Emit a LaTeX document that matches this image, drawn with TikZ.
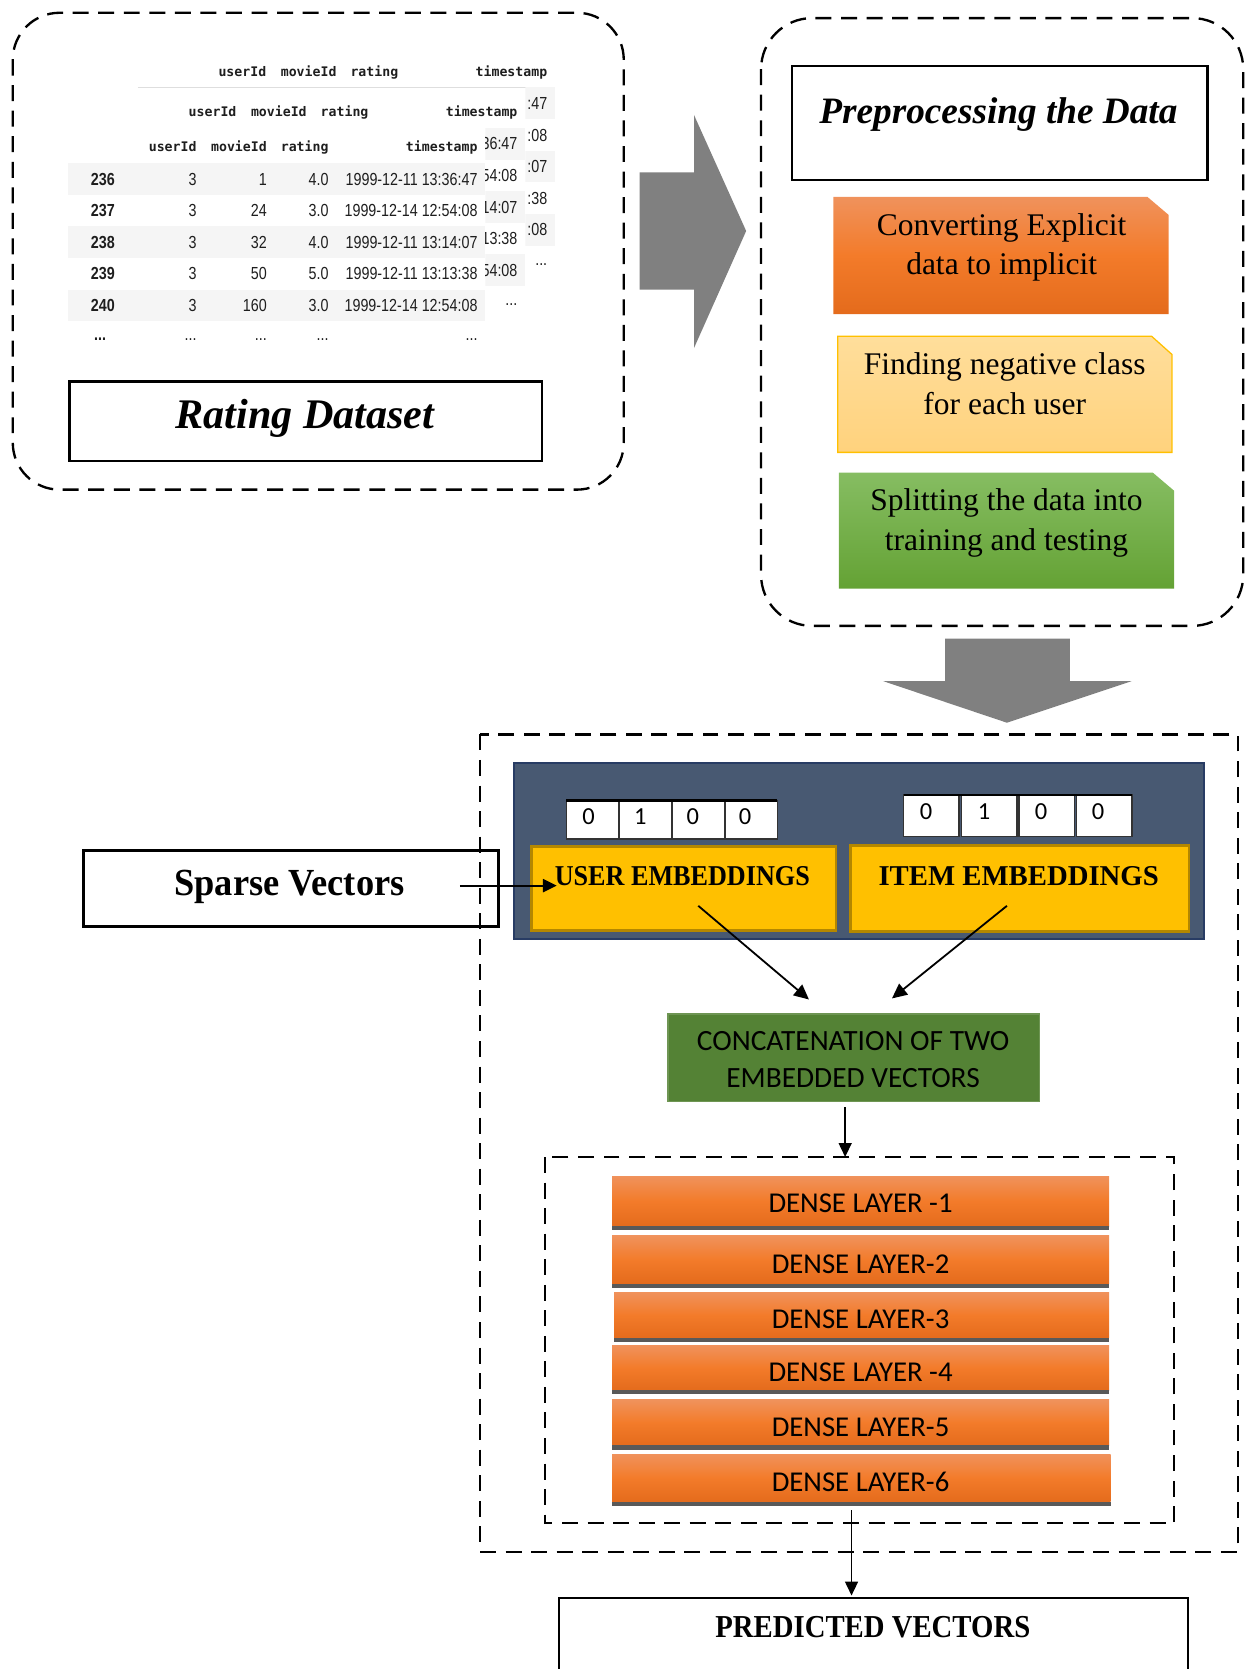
\documentclass[tikz,border=0pt]{standalone}
\usepackage{fontspec}
\usepackage{graphicx}
\setmainfont{Liberation Serif}
\newfontfamily\calib{Carlito}
\newfontfamily\tabfont[FakeStretch=0.82]{Liberation Sans}
\newfontfamily\monofont{DejaVu Sans Mono}
\usetikzlibrary{arrows.meta}

\definecolor{panelbg}{RGB}{72,89,114}
\definecolor{panelbd}{RGB}{40,60,100}
\definecolor{embfill}{RGB}{255,192,0}
\definecolor{embbd}{RGB}{180,135,0}
\definecolor{concatg}{RGB}{84,130,53}
\definecolor{orT}{RGB}{240,146,92}
\definecolor{orM}{RGB}{243,123,42}
\definecolor{orB}{RGB}{228,107,28}
\definecolor{ylT}{RGB}{255,222,155}
\definecolor{ylB}{RGB}{255,210,125}
\definecolor{ylbd}{RGB}{255,192,0}
\definecolor{grT}{RGB}{134,189,98}
\definecolor{grB}{RGB}{100,162,52}
\definecolor{arrgray}{RGB}{128,128,128}
\definecolor{stripc}{RGB}{89,89,89}
\definecolor{rowbg}{RGB}{245,245,245}
\definecolor{hlinec}{RGB}{222,222,222}
\definecolor{tabtxt}{RGB}{30,30,30}

\newcommand{\bx}[6]{%
  \pgfmathsetmacro\bxw{(#5-#3)/2}\pgfmathsetmacro\bxh{(#6-#4)/2}%
  \node[#1, anchor=north west, inner sep=0pt, minimum width=\bxw pt, minimum height=\bxh pt] (#2) at (#3,#4) {};}

% header of a table at shift (#1,#2), names prefix #3
\newcommand{\dfheader}[3]{%
\begin{scope}[shift={(#1,#2)}]
\node[hd] (#3h1) at (185,142.5) {userId};
\node[hd] (#3h2) at (251,142.5) {movieId};
\node[hd] (#3h3) at (309,142.5) {rating};
\node[hd] (#3h4) at (449,142.5) {timestamp};
\end{scope}}

% visible right strip of a table hidden behind another one:
% #1 dx, #2 dy, #3 left limit of the visible strip (absolute x), #4 prefix, #5 list of tails
\newcommand{\dfstrip}[5]{%
\begin{scope}
\clip (#3,0) rectangle (#1+456,400);
\begin{scope}[shift={(#1,#2)}]
\foreach \yy in {153.2,212.6,272.0} \fill[rowbg] (64,\yy) rectangle (456,\yy+29.7);
\foreach \tl [count=\k] in {#5}{
  \pgfmathsetmacro\yy{173.9+(\k-1)*29.7}
  \node[td] (#4t\k) at (449,\yy) {\tl};
}
\node[td] (#4et) at (449,320) {...};
\end{scope}
\end{scope}}

\begin{document}
\begin{tikzpicture}[x=0.5pt,y=-0.5pt,
  dbox/.style={draw=black, line width=1.1pt, dash pattern=on 7.5pt off 4.5pt},
  sbox/.style={draw=black, line width=1.2pt},
  arr/.style={line width=0.85pt, -{Triangle[length=7pt,width=6.5pt]}},
  lbl/.style={anchor=base, inner sep=0pt},
  hd/.style={anchor=base east, inner sep=0pt, text=tabtxt, font=\monofont\bfseries\fontsize{6.2}{7}\selectfont},
  td/.style={anchor=base east, inner sep=0pt, text=tabtxt, font=\tabfont\fontsize{8.2}{9}\selectfont},
  ixs/.style={anchor=base west, inner sep=0pt, text=tabtxt, font=\tabfont\bfseries\fontsize{8.2}{9}\selectfont},
  serifbig/.style={font=\fontsize{14.8}{18.5}\selectfont},
  calibtxt/.style={font=\calib\fontsize{13.5}{16}\selectfont},
  cell/.style={draw=black!80, line width=0.7pt, fill=white}
]
\useasboundingbox (0,0) rectangle (1171,1568);

% ---------- Rating dataset group ----------
\draw[dbox, rounded corners=22pt] (12,12) rectangle (586,460);

% back table (only its visible parts)
\dfheader{65.5}{-71}{B}
\draw[hlinec, line width=0.6pt] (129.5,82.5) -- (521.5,82.5);
\dfstrip{65.5}{-71}{493.5}{B}{:47,:08,:07,:38,:08}
% middle table (only its visible parts)
\dfheader{37.5}{-33}{M}
\dfstrip{37.5}{-33}{456}{M}{36:47,54:08,14:07,13:38,54:08}

% front table
\draw[hlinec, line width=0.6pt] (64,153.5) -- (456,153.5);
\foreach \yy in {153.2,212.6,272.0} \fill[rowbg] (64,\yy) rectangle (456,\yy+29.7);
\dfheader{0}{0}{F}
\foreach \ix/\u/\m/\r/\t [count=\k] in {236/3/1/4.0/{1999-12-11 13:36:47},237/3/24/3.0/{1999-12-14 12:54:08},238/3/32/4.0/{1999-12-11 13:14:07},239/3/50/5.0/{1999-12-11 13:13:38},240/3/160/3.0/{1999-12-14 12:54:08}}{
  \pgfmathsetmacro\yy{173.9+(\k-1)*29.7}
  \node[ixs] (Fi\k) at (85,\yy) {\ix};
  \node[td] (Fu\k) at (185,\yy) {\u};
  \node[td] (Fm\k) at (251,\yy) {\m};
  \node[td] (Fr\k) at (309,\yy) {\r};
  \node[td] (Ft\k) at (449,\yy) {\t};
}
\node[ixs] (Fei) at (88,320) {...};
\node[td] (Feu) at (185,320) {...};
\node[td] (Fem) at (251,320) {...};
\node[td] (Fer) at (309,320) {...};
\node[td] (Fet) at (449,320) {...};

\bx{sbox}{ratingbox}{64}{357}{508}{432}
\node[lbl, font=\fontsize{19.8}{22}\selectfont\bfseries\itshape] (ratingtxt) at (286.5,403) {Rating Dataset};

% ---------- right gray arrow ----------
\fill[arrgray] (601,162) -- (652,162) -- (652,108) -- (701,217) -- (652,327) -- (652,272) -- (601,272) -- cycle;

% ---------- Preprocessing group ----------
\draw[dbox, rounded corners=24pt] (715,17) rectangle (1168,588);
\bx{sbox}{prebox}{743}{61}{1133}{168}
\node[lbl, font=\fontsize{17.5}{20}\selectfont\bfseries\itshape] (pretxt) at (938,116) {Preprocessing the Data};

\shade[top color=orT, bottom color=orB, middle color=orM] (783,185) -- (1078,185) -- (1098,202) -- (1098,295) -- (783,295) -- cycle;
\node[lbl, serifbig] (conv1) at (941,221) {Converting Explicit};
\node[lbl, serifbig] (conv2) at (941,258) {data to implicit};

\shade[top color=ylT, bottom color=ylB, draw=ylbd, line width=0.6pt] (787,316) -- (1082,316) -- (1101,333) -- (1101,425) -- (787,425) -- cycle;
\node[lbl, serifbig] (find1) at (944,352) {Finding negative class};
\node[lbl, serifbig] (find2) at (944,389) {for each user};

\shade[top color=grT, bottom color=grB] (788,444) -- (1083,444) -- (1103,461) -- (1103,553) -- (788,553) -- cycle;
\node[lbl, serifbig] (split1) at (945.5,480) {Splitting the data into};
\node[lbl, serifbig] (split2) at (945.5,517) {training and testing};

% ---------- down gray arrow ----------
\fill[arrgray] (888,600) -- (1005,600) -- (1005,640) -- (1063,640) -- (946,679) -- (830,640) -- (888,640) -- cycle;

% ---------- model group ----------
\draw[dbox] (451,690) rectangle (1163,1458);
\bx{draw=panelbd, line width=1pt, fill=panelbg}{panel}{482}{716}{1130}{881}

% sparse vector cells
\foreach \xa in {532,582,632,681}{
  \pgfmathsetmacro\xb{\xa+49.5}
  \draw[cell] (\xa,752) rectangle (\xb,788);
}
\draw[black, line width=1pt] (532,752) -- (730,752);
\foreach \xx/\v [count=\k] in {553/0,601.5/1,651/0,700/0}
  \node[lbl, font=\calib\fontsize{11.5}{13}\selectfont] (ua\k) at (\xx,775) {\v};
\foreach \xa in {849,903.5,957.5,1011.5}{
  \pgfmathsetmacro\xb{\xa+52}
  \draw[cell] (\xa,747) rectangle (\xb,786);
}
\draw[black, line width=1pt] (849,747) -- (1063.5,747);
\foreach \xx/\v [count=\k] in {870/0,924.5/1,978/0,1031.5/0}
  \node[lbl, font=\calib\fontsize{11.5}{13}\selectfont] (ia\k) at (\xx,770) {\v};

\bx{draw=embbd, line width=1.2pt, fill=embfill}{userbox}{498}{794}{784}{873}
\bx{draw=embbd, line width=1.2pt, fill=embfill}{itembox}{798}{793}{1116}{874}
\node[lbl, font=\fontsize{13.5}{15}\selectfont\bfseries] (usertxt) at (641,832) {\scalebox{0.91}[1]{USER EMBEDDINGS}};
\node[lbl, font=\fontsize{13.5}{15}\selectfont\bfseries] (itemtxt) at (957,832) {ITEM EMBEDDINGS};

% sparse vectors box
\bx{sbox}{sparsebox}{77}{798}{467}{869}
\node[lbl, font=\fontsize{18}{20}\selectfont\bfseries] (sparsetxt) at (272,841) {\scalebox{0.95}[1]{Sparse Vectors}};
\coordinate (spS) at (432,832);
\coordinate (spE) at (523,832);
\draw[line width=0.85pt, -{Triangle[length=6.5pt,width=6.2pt]}] (spS) -- (spE);

% concatenation
\bx{draw=concatg!85!white, line width=0.6pt, fill=concatg}{concat}{627}{952}{976}{1034}
\node[lbl, font=\calib\fontsize{13.8}{16}\selectfont] (cc1) at (801.5,987) {CONCATENATION OF TWO};
\node[lbl, font=\calib\fontsize{13.8}{16}\selectfont] (cc2) at (801.5,1022) {EMBEDDED VECTORS};

\coordinate (ueS) at (656,851);
\coordinate (ueE) at (760,939);
\coordinate (ieS) at (946,851);
\coordinate (ieE) at (838,938);
\draw[arr] (ueS) -- (ueE);
\draw[arr] (ieS) -- (ieE);

% dense layers
\draw[dbox] (512,1087) rectangle (1103,1431);
\coordinate (ccS) at (794,1040);
\coordinate (ccE) at (794,1087);
\draw[line width=0.85pt, -{Triangle[length=6.5pt,width=6pt]}] (ccS) -- (ccE);

\foreach \xl/\xr/\yt/\ys/\yb/\tx/\ty [count=\k] in {
  575/1042/1105/1152/1156/{DENSE LAYER -1}/1139.3,
  575/1042/1161/1206/1210/{DENSE LAYER-2}/1196.4,
  577/1042/1214/1257/1261/{DENSE LAYER-3}/1248.3,
  575/1042/1264/1306/1310/{DENSE LAYER -4}/1297.7,
  575/1042/1315/1358/1362/{DENSE LAYER-5}/1349.7,
  575/1043.5/1366/1411/1415/{DENSE LAYER-6}/1401.2}{
  \shade[top color=orT, bottom color=orB, middle color=orM] (\xl,\yt) rectangle (\xr,\ys);
  \fill[stripc] (\xl,\ys) rectangle (\xr,\yb);
  \node[lbl, calibtxt] (dense\k) at (808.5,\ty) {\tx};
}

\coordinate (outS) at (800,1419);
\coordinate (outE) at (800,1499);
\draw[line width=0.85pt, -{Triangle[length=6.5pt,width=6pt]}] (outS) -- (outE);

% predicted vectors
\bx{sbox}{predbox}{524}{1500}{1115}{1600}
\node[lbl, font=\fontsize{15}{17}\selectfont\bfseries] (predtxt) at (820,1538) {\scalebox{0.9}[1]{PREDICTED VECTORS}};
\end{tikzpicture}
\end{document}
